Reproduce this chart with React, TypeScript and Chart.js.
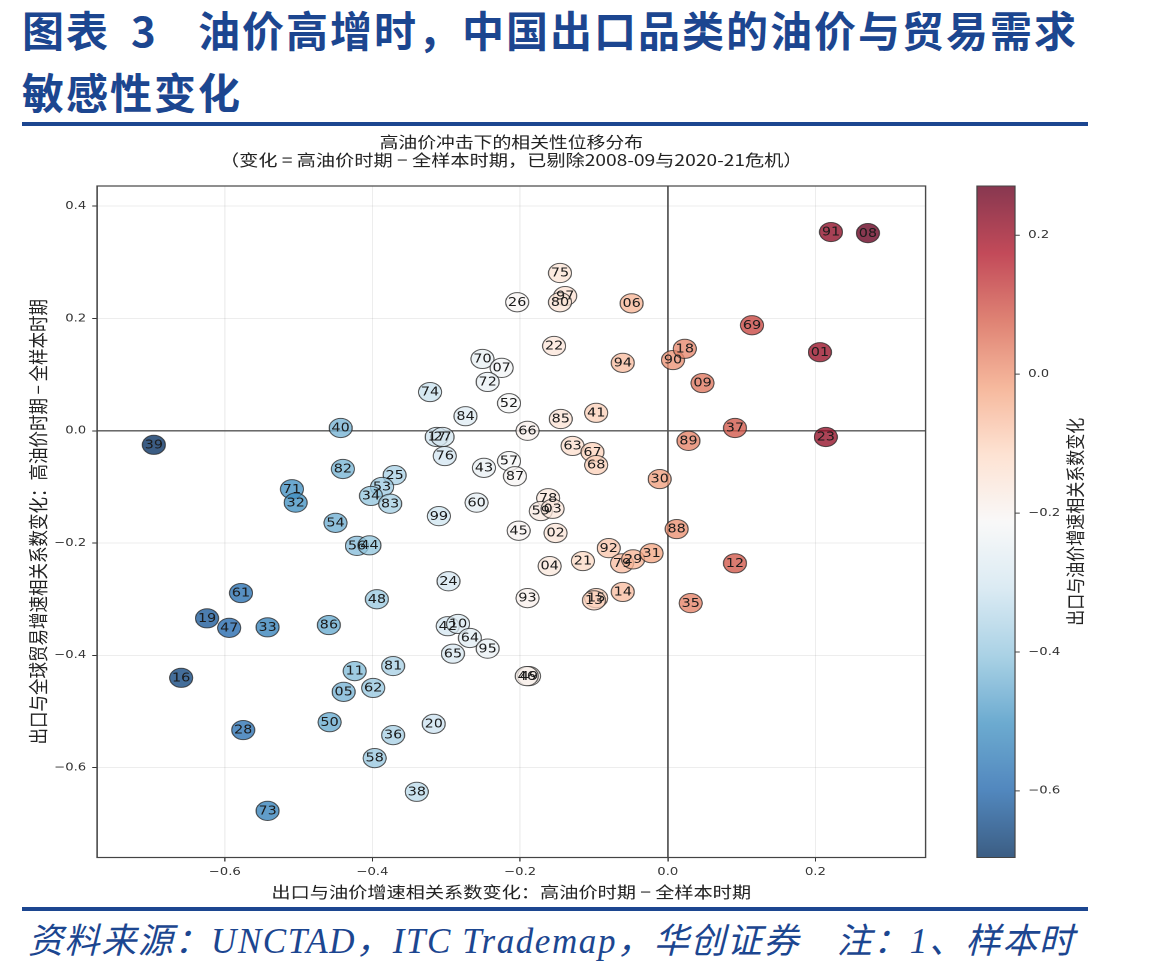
import React, { useEffect, useRef } from "react";
import { Chart, registerables } from "chart.js";

Chart.register(...registerables);

// ---------- data ----------
const codes = [
  "91", "08", "75", "97", "80", "26", "06", "22", "94", "90", "18", "69", "01", "09", "37", "23", "89",
  "70", "07", "72", "74", "52", "84", "85", "41", "66", "40", "39", "17", "27", "76", "43", "57", "87",
  "63", "67", "68", "30", "25", "53", "34", "83", "82", "71", "32", "54", "56", "44", "99", "60", "78",
  "59", "03", "45", "02", "92", "79", "29", "31", "21", "04", "14", "15", "13", "93", "24", "42", "10",
  "64", "65", "95", "49", "46", "81", "20", "36", "38", "58", "11", "62", "05", "50", "28", "73", "16",
  "61", "19", "47", "33", "86", "48", "12", "35", "88",
];
const xChange = [
  0.221, 0.271, -0.146, -0.139, -0.146, -0.204, -0.049, -0.154, -0.061, 0.007, 0.023, 0.114, 0.206, 0.047, 0.091, 0.214, 0.028,
  -0.251, -0.225, -0.244, -0.322, -0.215, -0.274, -0.145, -0.097, -0.19, -0.443, -0.696, -0.313, -0.305, -0.302, -0.249, -0.215, -0.207,
  -0.129, -0.102, -0.097, -0.011, -0.37, -0.387, -0.402, -0.376, -0.44, -0.509, -0.504, -0.45, -0.421, -0.404, -0.31, -0.259, -0.162,
  -0.172, -0.156, -0.202, -0.152, -0.08, -0.062, -0.047, -0.022, -0.115, -0.16, -0.061, -0.097, -0.1, -0.19, -0.297, -0.298, -0.284,
  -0.268, -0.291, -0.244, -0.188, -0.191, -0.372, -0.317, -0.372, -0.34, -0.397, -0.424, -0.399, -0.439, -0.458, -0.575, -0.542, -0.659,
  -0.578, -0.624, -0.594, -0.542, -0.459, -0.394, 0.091, 0.031, 0.012,
];
const yChange = [
  0.354, 0.352, 0.281, 0.24, 0.229, 0.229, 0.227, 0.151, 0.121, 0.126, 0.146, 0.188, 0.14, 0.085, 0.005, -0.011, -0.018,
  0.128, 0.112, 0.087, 0.069, 0.049, 0.026, 0.021, 0.032, 0.0, 0.005, -0.025, -0.011, -0.011, -0.045, -0.066, -0.054, -0.081,
  -0.027, -0.038, -0.061, -0.086, -0.079, -0.1, -0.116, -0.13, -0.068, -0.104, -0.128, -0.164, -0.205, -0.204, -0.152, -0.128, -0.12,
  -0.143, -0.139, -0.178, -0.182, -0.209, -0.236, -0.229, -0.218, -0.232, -0.241, -0.287, -0.298, -0.302, -0.298, -0.268, -0.348, -0.344,
  -0.369, -0.397, -0.388, -0.437, -0.437, -0.419, -0.522, -0.542, -0.643, -0.583, -0.428, -0.458, -0.465, -0.519, -0.533, -0.677, -0.44,
  -0.289, -0.334, -0.351, -0.35, -0.346, -0.3, -0.236, -0.307, -0.175,
];
const xTicks = [-0.6, -0.4, -0.2, 0.0, 0.2];
const yTicks = [-0.6, -0.4, -0.2, 0.0, 0.2, 0.4];
const cbarTicks = [-0.6, -0.4, -0.2, 0.0, 0.2];

const chartTitle1 = "高油价冲击下的相关性位移分布";
const chartTitle2 = "（变化 = 高油价时期 − 全样本时期，已剔除2008-09与2020-21危机）";
const xTitle = "出口与油价增速相关系数变化：高油价时期 − 全样本时期";
const yTitle = "出口与全球贸易增速相关系数变化：高油价时期 − 全样本时期";
const cbarTitle = "出口与油价增速相关系数变化";

// ---------- layout (canvas coordinates; canvas is stretched horizontally) ----------
const PAGE_W = 1149;
const CW = 958;
const CH = 780;
const SX = PAGE_W / CW;
const X_MIN = -0.773;
const X_MAX = 0.349;
const Y_MIN = -0.76;
const Y_MAX = 0.436;
const PL = 97 / SX;
const PR = 925.5 / SX;
const PT = 58;
const PB = 729.5;
const CB_L = 977 / SX;
const CB_R = 1015 / SX;

const RDBU_R = ["#053061", "#2166ac", "#4393c3", "#92c5de", "#d1e5f0", "#f7f7f7", "#fddbc7", "#f4a582", "#d6604d", "#b2182b", "#67001f"];
const ALPHA = 0.78;

function hexRgb(h: string) {
  return [parseInt(h.slice(1, 3), 16), parseInt(h.slice(3, 5), 16), parseInt(h.slice(5, 7), 16)];
}
function cmap(t: number, a: number) {
  const tt = Math.max(0, Math.min(1, t)) * (RDBU_R.length - 1);
  const i = Math.min(RDBU_R.length - 2, Math.floor(tt));
  const f = tt - i;
  const c0 = hexRgb(RDBU_R[i]);
  const c1 = hexRgb(RDBU_R[i + 1]);
  const c = c0.map((v, k) => Math.round(v + (c1[k] - v) * f));
  return `rgba(${c[0]},${c[1]},${c[2]},${a})`;
}
const VMIN = Math.min(...xChange);
const VMAX = Math.max(...xChange);

const fmt = (v: number) => {
  const s = Math.abs(v) < 1e-9 ? "0.0" : v.toFixed(1);
  return s.replace("-", "−");
};

const CJK = '"Noto Sans CJK SC", "Noto Sans", sans-serif';

const decor = {
  id: "decor",
  beforeDatasetsDraw(chart: any) {
    const { ctx, chartArea: a, scales } = chart;
    ctx.save();
    ctx.strokeStyle = "#555";
    ctx.lineWidth = 1.4;
    const x0 = scales.x.getPixelForValue(0);
    const y0 = scales.y.getPixelForValue(0);
    ctx.beginPath();
    ctx.moveTo(x0, a.top);
    ctx.lineTo(x0, a.bottom);
    ctx.moveTo(a.left, y0);
    ctx.lineTo(a.right, y0);
    ctx.stroke();
    ctx.restore();
  },
  afterDatasetsDraw(chart: any) {
    const { ctx, chartArea: a, scales } = chart;
    ctx.save();
    ctx.fillStyle = "#1a1a1a";
    ctx.font = '12px "DejaVu Sans", sans-serif';
    ctx.textAlign = "center";
    ctx.textBaseline = "middle";
    codes.forEach((c, i) => {
      ctx.fillText(c, scales.x.getPixelForValue(xChange[i]), scales.y.getPixelForValue(yChange[i]) + 0.5);
    });
    ctx.strokeStyle = "#444";
    ctx.lineWidth = 1.2;
    ctx.strokeRect(a.left, a.top, a.right - a.left, a.bottom - a.top);
    ctx.restore();
  },
  afterDraw(chart: any) {
    const { ctx, chartArea: a } = chart;
    const cx = (a.left + a.right) / 2;
    const cy = (a.top + a.bottom) / 2;
    ctx.save();
    ctx.fillStyle = "#222";
    ctx.textAlign = "center";
    ctx.textBaseline = "middle";
    ctx.font = `15.7px ${CJK}`;
    ctx.fillText(chartTitle1, cx, 14);
    ctx.font = `16px ${CJK}`;
    ctx.fillText(chartTitle2, cx, 32);
    ctx.font = `16px ${CJK}`;
    ctx.fillText(xTitle, cx, 764);
    ctx.save();
    ctx.translate(38 / SX, cy);
    ctx.rotate(-Math.PI / 2);
    ctx.font = `16.5px ${CJK}`;
    ctx.fillText(yTitle, 0, 0);
    ctx.restore();

    // colorbar
    const top = a.top;
    const bot = a.bottom;
    ctx.fillStyle = "#fff";
    ctx.fillRect(CB_L, top, CB_R - CB_L, bot - top);
    const g = ctx.createLinearGradient(0, bot, 0, top);
    for (let k = 0; k <= 40; k++) g.addColorStop(k / 40, cmap(k / 40, ALPHA));
    ctx.fillStyle = g;
    ctx.fillRect(CB_L, top, CB_R - CB_L, bot - top);
    ctx.strokeStyle = "#444";
    ctx.lineWidth = 1;
    ctx.strokeRect(CB_L, top, CB_R - CB_L, bot - top);
    ctx.fillStyle = "#333";
    ctx.font = '11px "DejaVu Sans", sans-serif';
    ctx.textAlign = "left";
    ctx.beginPath();
    cbarTicks.forEach((v) => {
      const y = bot - ((v - VMIN) / (VMAX - VMIN)) * (bot - top);
      ctx.moveTo(CB_R, y);
      ctx.lineTo(CB_R + 4, y);
      ctx.fillText(fmt(v), CB_R + 11, y);
    });
    ctx.stroke();
    ctx.fillStyle = "#222";
    ctx.textAlign = "center";
    ctx.font = `16px ${CJK}`;
    ctx.translate(1075 / SX, cy);
    ctx.rotate(-Math.PI / 2);
    ctx.fillText(cbarTitle, 0, 0);
    ctx.restore();
  },
};

function ScatterChart() {
  const ref = useRef<HTMLCanvasElement | null>(null);
  useEffect(() => {
    if (!ref.current) return;
    const pts = xChange.map((x, i) => ({ x, y: yChange[i] }));
    const colors = xChange.map((x) => cmap((x - VMIN) / (VMAX - VMIN), ALPHA));
    const tickFont = { family: "DejaVu Sans", size: 11 };
    const chart = new Chart(ref.current, {
      type: "scatter",
      data: {
        datasets: [
          {
            data: pts,
            backgroundColor: colors,
            borderColor: "rgba(35,35,35,0.75)",
            borderWidth: 1,
            pointRadius: 9.6,
            pointHoverRadius: 9.6,
          },
        ],
      },
      options: {
        responsive: false,
        animation: false,
        devicePixelRatio: 2,
        events: [],
        layout: { padding: { top: PT, right: CW - PR, left: 0, bottom: 0 } },
        plugins: { legend: { display: false }, tooltip: { enabled: false }, title: { display: false } },
        scales: {
          x: {
            type: "linear",
            min: X_MIN,
            max: X_MAX,
            afterBuildTicks: (s: any) => {
              s.ticks = xTicks.map((v) => ({ value: v }));
            },
            afterFit: (s: any) => {
              s.height = CH - PB;
            },
            grid: { color: "rgba(0,0,0,0.07)", tickColor: "#333", tickLength: 4 },
            border: { display: false },
            ticks: { font: tickFont, color: "#333", padding: 4, maxRotation: 0, callback: (v: any) => fmt(Number(v)) },
          },
          y: {
            type: "linear",
            min: Y_MIN,
            max: Y_MAX,
            afterBuildTicks: (s: any) => {
              s.ticks = yTicks.map((v) => ({ value: v }));
            },
            afterFit: (s: any) => {
              s.width = PL;
            },
            grid: { color: "rgba(0,0,0,0.07)", tickColor: "#333", tickLength: 4 },
            border: { display: false },
            ticks: { font: tickFont, color: "#333", padding: 5, callback: (v: any) => fmt(Number(v)) },
          },
        },
      },
      plugins: [decor],
    } as any);
    return () => chart.destroy();
  }, []);
  return (
    <div
      style={{
        position: "absolute",
        left: 0,
        top: 128,
        width: CW,
        height: CH,
        transform: `scaleX(${SX})`,
        transformOrigin: "0 0",
      }}
    >
      <canvas ref={ref} width={CW} height={CH} style={{ display: "block", width: CW, height: CH }} />
    </div>
  );
}

const BLUE = "#1c4690";
const titleFont = '"Noto Sans CJK SC", sans-serif';

export default function App() {
  const t: React.CSSProperties = {
    position: "absolute",
    fontFamily: titleFont,
    fontWeight: 700,
    fontSize: 42,
    lineHeight: "42px",
    color: BLUE,
    letterSpacing: 2,
    whiteSpace: "nowrap",
  };
  return (
    <div style={{ position: "absolute", left: 0, top: 0, width: PAGE_W, height: 978, overflow: "hidden", background: "#fff" }}>
      <div style={{ ...t, left: 22, top: 8 }}>图表</div>
      <div style={{ ...t, left: 131, top: 8 }}>3</div>
      <div style={{ ...t, left: 198, top: 8 }}>油价高增时，中国出口品类的油价与贸易需求</div>
      <div style={{ ...t, left: 22, top: 70 }}>敏感性变化</div>
      <div style={{ position: "absolute", left: 22, top: 122, width: 1066, height: 4, background: BLUE }} />
      <ScatterChart />
      <div style={{ position: "absolute", left: 22, top: 907, width: 1066, height: 4, background: BLUE }} />
      <div
        style={{
          position: "absolute",
          left: 28,
          top: 923,
          fontFamily: '"Liberation Serif", "Noto Sans CJK SC", serif',
          fontStyle: "italic",
          fontSize: 35,
          lineHeight: "38px",
          letterSpacing: 1.6,
          color: BLUE,
          whiteSpace: "nowrap",
        }}
      >
        资料来源：UNCTAD，ITC Trademap，华创证券　注：1、样本时
      </div>
    </div>
  );
}
